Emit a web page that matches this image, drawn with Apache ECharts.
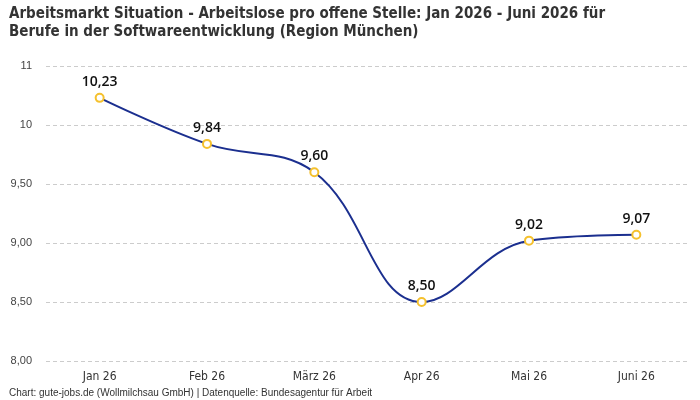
<!DOCTYPE html>
<html lang="de">
<head>
<meta charset="UTF-8">
<title>Arbeitsmarkt Situation</title>
<script src="https://cdn.jsdelivr.net/npm/echarts@6/dist/echarts.min.js"></script>
<style>
  html, body { margin: 0; padding: 0; background: #fff; }
  #main { width: 700px; height: 400px; }
</style>
</head>
<body>
<div id="main"></div>
<script>
// Daten
const months = ['Jan 26', 'Feb 26', 'März 26', 'Apr 26', 'Mai 26', 'Juni 26'];
const values = [10.23, 9.84, 9.60, 8.50, 9.02, 9.07];
// Achsenbeschriftung wie im Original (oberste Linie 10,5 wird als "11" angezeigt)
const yLabels = { 8: '8,00', 8.5: '8,50', 9: '9,00', 9.5: '9,50', 10: '10', 10.5: '11' };

const chart = echarts.init(document.getElementById('main'));
const condensed = '"Liberation Sans Narrow", "DejaVu Sans Condensed", sans-serif';

chart.setOption({
  backgroundColor: '#fff',
  animation: false,
  title: {
    text: 'Arbeitsmarkt Situation - Arbeitslose pro offene Stelle: Jan 2026 - Juni 2026 für\nBerufe in der Softwareentwicklung (Region München)',
    left: 4,
    top: 0,
    textStyle: { fontFamily: condensed, fontSize: 15, fontWeight: 'bold', color: '#333', lineHeight: 18 }
  },
  graphic: [{
    type: 'text',
    left: 9,
    top: 388,
    style: {
      text: 'Chart: gute-jobs.de (Wollmilchsau GmbH) | Datenquelle: Bundesagentur für Arbeit',
      font: '10px "Liberation Sans Narrow", sans-serif',
      fill: '#333'
    }
  }],
  grid: { left: 46, right: 10, top: 66, bottom: 39 },
  xAxis: {
    type: 'category',
    data: months,
    axisLine: { show: false },
    axisTick: { show: false },
    axisLabel: { color: '#333', fontFamily: condensed, fontSize: 12, margin: 10 }
  },
  yAxis: {
    type: 'value',
    min: 8,
    max: 10.5,
    interval: 0.5,
    axisLine: { show: false },
    axisTick: { show: false },
    splitLine: { lineStyle: { color: '#ccc', type: [4, 3] } },
    axisLabel: {
      color: '#444',
      fontFamily: 'Liberation Sans, sans-serif',
      fontSize: 11,
      margin: 14,
      formatter: v => (v in yLabels ? yLabels[v] : '')
    }
  },
  series: [{
    type: 'line',
    data: values,
    smooth: 0.4,
    symbol: 'circle',
    symbolSize: 8,
    lineStyle: { color: '#1b2f8f', width: 2 },
    itemStyle: { color: '#fff', borderColor: '#f5c12e', borderWidth: 2 },
    label: {
      show: true,
      position: 'top',
      distance: 4,
      color: '#111',
      fontFamily: '"Open Sans", sans-serif',
      fontSize: 14,
      fontWeight: 600,
      formatter: p => p.value.toFixed(2).replace('.', ',')
    }
  }]
});
</script>
</body>
</html>
